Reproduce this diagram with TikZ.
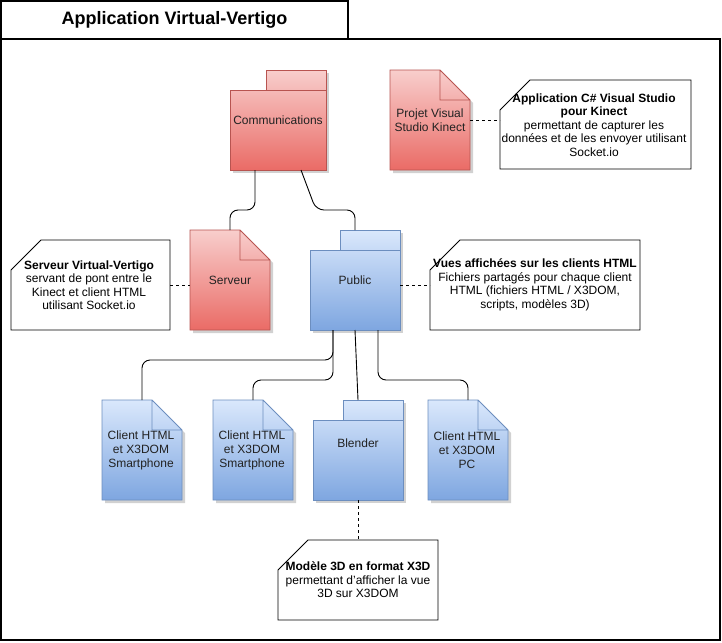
\documentclass[tikz,border=0pt]{standalone}
\usepackage{fontspec}
\setmainfont{Liberation Sans}
\usetikzlibrary{calc,fit}
\definecolor{rtop}{HTML}{F8CECC}
\definecolor{rbot}{HTML}{EA6B66}
\definecolor{rstr}{HTML}{B85450}
\definecolor{btop}{HTML}{DAE8FC}
\definecolor{bbot}{HTML}{7EA6E0}
\definecolor{bstr}{HTML}{6C8EBF}
\definecolor{txtc}{HTML}{222222}
\tikzset{
  rfill/.style={top color=rtop,bottom color=rbot},
  bfill/.style={top color=btop,bottom color=bbot},
  rline/.style={draw=rstr,line width=0.8pt},
  bline/.style={draw=bstr,line width=0.8pt},
  shd/.style={fill=black!18},
  notel/.style={draw=black,fill=white,line width=0.8pt},
  frm/.style={draw=black,line width=1.2pt},
  hit/.style={inner sep=0pt,outer sep=0pt,draw=none},
  lbl/.style={font=\fontsize{12}{14}\selectfont,align=center,inner sep=0pt,text=txtc},
  nlbl/.style={font=\fontsize{12}{13.5}\selectfont,align=center,inner sep=0pt,text=black},
  ttl/.style={font=\fontsize{18}{20}\selectfont\bfseries,inner sep=0pt},
  conn/.style={draw=black,line width=0.9pt,rounded corners=8pt},
  dsh/.style={draw=black,line width=0.8pt,dash pattern=on 3pt off 3pt}
}
\newcommand{\docshp}[5]{%
  \fill[shd] (#1+3,#2+3) -- (#3-27,#2+3) -- (#3+3,#2+33) -- (#3+3,#4+3) -- (#1+3,#4+3) -- cycle;
  \shade[#5fill] (#1,#2) -- (#3-30,#2) -- (#3,#2+30) -- (#3,#4) -- (#1,#4) -- cycle;
  \draw[#5line] (#1,#2) -- (#3-30,#2) -- (#3,#2+30) -- (#3,#4) -- (#1,#4) -- cycle
     (#3-30,#2) -- (#3-30,#2+30) -- (#3,#2+30);
}
\newcommand{\pkgshp}[5]{%
  \fill[shd] (#3-57,#2+3) rectangle (#3+3,#2+23);
  \fill[shd] (#1+3,#2+23) rectangle (#3+3,#4+3);
  \shade[#5fill] (#3-60,#2) -- (#3,#2) -- (#3,#4) -- (#1,#4) -- (#1,#2+20) -- (#3-60,#2+20) -- cycle;
  \draw[#5line] (#3-60,#2) rectangle (#3,#2+20) (#1,#2+20) rectangle (#3,#4);
}
\newcommand{\noteshp}[4]{%
  \draw[notel] (#1+30,#2) -- (#3,#2) -- (#3,#4) -- (#1,#4) -- (#1,#2+30) -- cycle;
}
\begin{document}
\begin{tikzpicture}[x=1pt,y=-1pt]
\useasboundingbox (0,0) rectangle (722,642);
\fill[white] (0,0) rectangle (722,642);
% frame
\draw[frm] (1,1) rectangle (348,39);
\draw[frm] (1,39) rectangle (720,640);
\node[ttl] (title) at (174.5,20) {Application Virtual-Vertigo};

% shapes
\pkgshp{230}{70}{326}{170}{r}
\node[hit,fit={(230,90) (326,170)}] (comm) {};
\node[lbl] (commt) at (278,120) {Communications};

\docshp{390}{70}{470}{170}{r}
\node[hit,fit={(390,70) (470,170)}] (proj) {};
\node[lbl] (projt) at (430,120) {Projet Visual\\Studio Kinect};

\noteshp{500}{80}{691}{169}
\node[hit,fit={(500,80) (691,169)}] (n1) {};
\node[nlbl] (n1t) at (594,125) {\textbf{Application C\# Visual Studio}\\\textbf{pour Kinect}\\permettant de capturer les\\données et de les envoyer utilisant\\Socket.io};

\docshp{190}{230}{270}{330}{r}
\node[hit,fit={(190,230) (270,330)}] (serv) {};
\node[lbl] (servt) at (230,280) {Serveur};

\noteshp{11}{240}{170}{330}
\node[hit,fit={(11,240) (170,330)}] (n2) {};
\node[nlbl] (n2t) at (89,285) {\textbf{Serveur Virtual-Vertigo}\\servant de pont entre le\\Kinect et client HTML\\utilisant Socket.io};

\pkgshp{310}{230}{400}{330}{b}
\node[hit,fit={(310,250) (400,330)}] (pub) {};
\node[lbl] (pubt) at (355,280) {Public};

\noteshp{430}{240}{640}{330}
\node[hit,fit={(430,240) (640,330)}] (n3) {};
\node[nlbl] (n3t) at (535,285) {\textbf{Vues affichées sur les clients HTML}\\Fichiers partagés pour chaque client\\HTML (fichiers HTML / X3DOM,\\scripts, modèles 3D)};

\docshp{102}{400}{182}{500}{b}
\node[hit,fit={(102,400) (182,500)}] (c1) {};
\node[lbl] (c1t) at (141,450) {Client HTML\\et X3DOM\\Smartphone};

\docshp{213}{400}{293}{500}{b}
\node[hit,fit={(213,400) (293,500)}] (c2) {};
\node[lbl] (c2t) at (252,450) {Client HTML\\et X3DOM\\Smartphone};

\pkgshp{313}{400}{403}{500}{b}
\node[hit,fit={(313,420) (403,500)}] (blend) {};
\node[lbl] (blendt) at (358,443) {Blender};

\docshp{428}{400}{508}{500}{b}
\node[hit,fit={(428,400) (508,500)}] (c3) {};
\node[lbl] (c3t) at (467,450) {Client HTML\\et X3DOM\\PC};

\noteshp{278}{540}{438}{620}
\node[hit,fit={(278,540) (438,620)}] (n4) {};
\node[nlbl] (n4t) at (358,580) {\textbf{Modèle 3D en format X3D}\\permettant d'afficher la vue\\3D sur X3DOM};

% connectors
\draw[conn] ($(comm.south west)+(25,0)$) -- ++(0,40) -| (serv.north);
\draw[conn] ($(comm.south west)+(71,0)$) -- ($(comm.south west)+(86,40)$) -| ($(pub.north)+(0,-20)$);
\draw[conn] ($(pub.south west)+(23,0)$) -- ++(0,30) -| (c1.north);
\draw[conn] ($(pub.south west)+(23,0)$) -- ++(0,50) -| (c2.north);
\draw[conn] (pub.south) -- ($(blend.north)+(0,-20)$);
\draw[conn] ($(pub.south west)+(68,0)$) -- ++(0,50) -| (c3.north);

\draw[dsh] (proj.east) -- (proj.east -| n1.west);
\draw[dsh] (n2.east) -- (n2.east -| serv.west);
\draw[dsh] (pub.east |- n3.west) -- (n3.west);
\draw[dsh] (blend.south) -- (n4.north);
\end{tikzpicture}
\end{document}
